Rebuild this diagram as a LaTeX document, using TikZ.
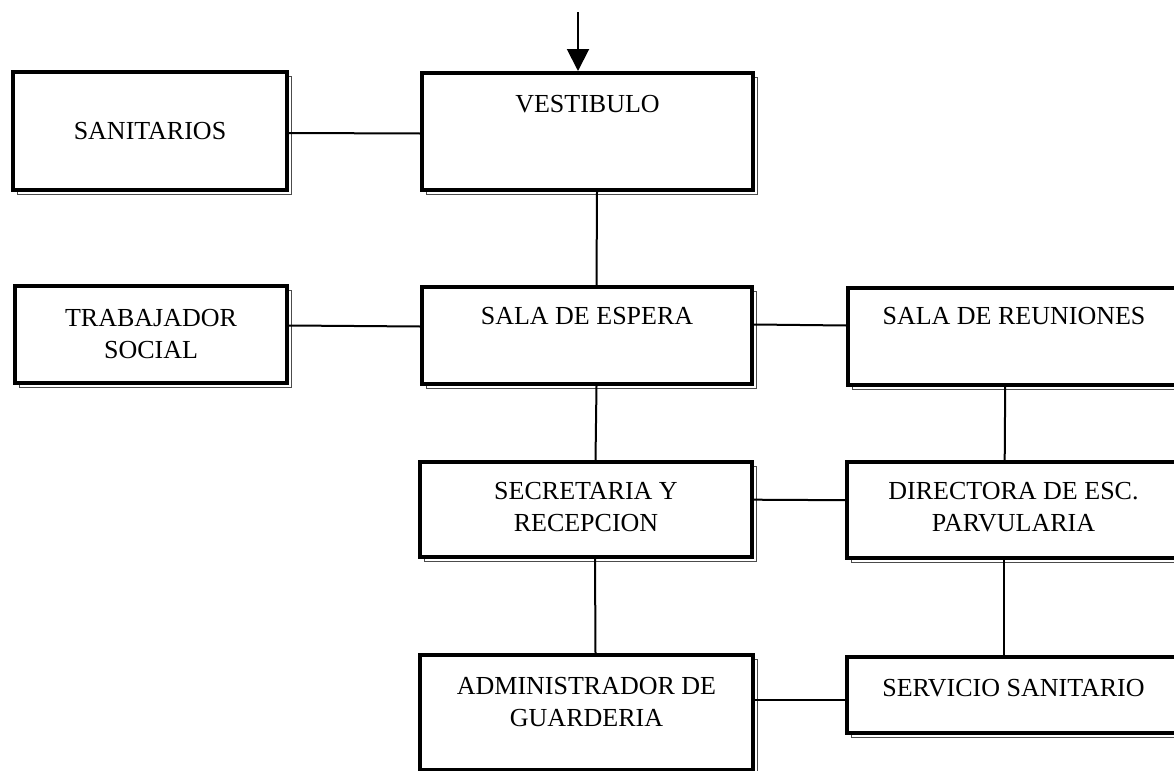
\documentclass[tikz,border=0pt]{standalone}
\usepackage{fontspec}
\setmainfont{Liberation Serif}
\usetikzlibrary{positioning,arrows.meta}
\tikzset{
  roombox/.style={draw,fill=white,line width=2pt,inner sep=0pt,align=center,
    font=\fontsize{13}{16}\selectfont,
    preaction={draw=black!70,line width=0.6pt,
      transform canvas={xshift=2.3pt,yshift=-2.3pt}}},
  link/.style={line width=1pt}
}

\begin{document}
\begin{tikzpicture}[x=0.5pt,y=-0.5pt]
    \useasboundingbox (0,0) rectangle (1174,771);
    % boxes
    \node[roombox,minimum width=137pt,minimum height=59pt] (sanitarios) at (150,131) {SANITARIOS};
    \node[roombox,minimum width=165.5pt,text height=19.75pt,text depth=38.75pt] (vestibulo) at (587.5,131.5) {VESTIBULO};
    \node[roombox,minimum width=136pt,minimum height=48.5pt] (trabajador) at (151,334.5) {TRABAJADOR\\SOCIAL};
    \node[roombox,minimum width=165pt,text height=18.75pt,text depth=29.75pt] (espera) at (587,335.5) {SALA DE ESPERA};
    \node[roombox,minimum width=166pt,text height=18.25pt,text depth=30.25pt] (reuniones) at (1014,336.5) {SALA DE REUNIONES};
    \node[roombox,minimum width=166pt,text height=34.75pt,text depth=12.75pt] (secretaria) at (586,509.5) {SECRETARIA Y\\RECEPCION};
    \node[roombox,minimum width=166.5pt,text height=34.75pt,text depth=13.25pt] (directora) at (1013.5,510) {DIRECTORA DE ESC.\\PARVULARIA};
    \node[roombox,minimum width=166.5pt,text height=35.75pt,text depth=21.75pt] (admin) at (586.5,712.5) {ADMINISTRADOR DE\\GUARDERIA};
    \node[roombox,minimum width=166.5pt,text height=19.75pt,text depth=18.25pt] (servicio) at (1013.5,695) {SERVICIO SANITARIO};

    % entrance
    \coordinate (entrada) at (578,12);
    \draw[link,-{Triangle[width=11pt,length=11pt]}] (entrada) -- ([xshift=-4.75pt]vestibulo.north);

    % connections
    \draw[link] ([yshift=-1pt]sanitarios.east) -- ([yshift=-1pt]vestibulo.west);
    \draw[link] ([xshift=4.75pt]vestibulo.south) -- ([xshift=4.75pt]espera.north);
    \draw[link] ([yshift=4.5pt]trabajador.east) -- ([yshift=4.5pt]espera.west);
    \draw[link] ([yshift=5.5pt]espera.east) -- ([yshift=5.5pt]reuniones.west);
    \draw[link] ([xshift=4.75pt]espera.south) -- ([xshift=4.75pt]secretaria.north);
    \draw[link] ([xshift=-4.4pt]reuniones.south) -- ([xshift=-4.4pt]directora.north);
    \draw[link] ([yshift=4.9pt]secretaria.east) -- ([yshift=4.9pt]directora.west);
    \draw[link] ([xshift=4.5pt]secretaria.south) -- ([xshift=4.5pt]admin.north);
    \draw[link] ([xshift=-4.75pt]directora.south) -- ([xshift=-4.75pt]servicio.north);
    \draw[link] ([yshift=6.25pt]admin.east) -- ([yshift=-2.5pt]servicio.west);
\end{tikzpicture}
\end{document}
